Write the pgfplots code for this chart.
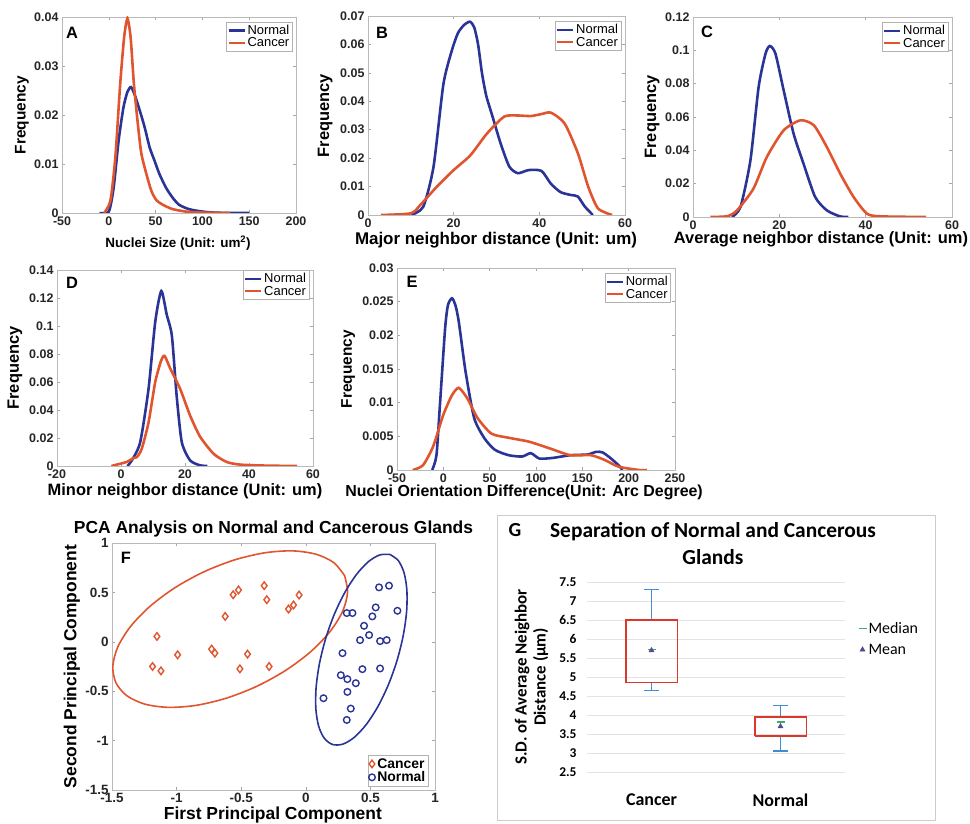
\documentclass[border=0pt]{standalone}
\usepackage{fontspec}
\setmainfont{Liberation Sans}
\newfontfamily\calib{Carlito}
\usepackage{pgfplots}
\pgfplotsset{compat=1.18}

\definecolor{nblue}{RGB}{42,52,150}
\definecolor{cred}{RGB}{224,85,45}
\definecolor{gbox}{RGB}{220,55,40}
\definecolor{gwhisk}{RGB}{65,140,210}
\definecolor{gmed}{RGB}{60,170,110}
\definecolor{gmean}{RGB}{85,75,140}

\pgfplotsset{
  panel/.style={
    scale only axis,
    anchor=south west,
    axis line style={draw=gray!55, line width=0.6pt},
    tick style={gray!70, line width=0.5pt},
    major tick length=3bp,
    tick align=inside,
    ticklabel style={font=\bfseries\fontsize{12.5}{13}\selectfont, text=black!85},
    /pgf/number format/assume math mode=true,
    scaled ticks=false,
    yticklabel style={/pgf/number format/fixed, /pgf/number format/precision=3},
    xticklabel style={/pgf/number format/fixed},
    label style={font=\bfseries\fontsize{16.5}{18}\selectfont},
    ylabel=Frequency,
    legend style={at={(0.985,0.975)}, anchor=north east, draw=gray!60,
      font=\fontsize{13}{14}\selectfont, inner sep=1pt, row sep=-2pt,
      cells={anchor=west}},
    legend image code/.code={\draw[##1,line width=2.1pt] (0bp,0bp) -- (16bp,0bp);},
    every axis plot/.append style={line width=2.6pt, smooth, tension=0.4},
  },
  lx/.style 2 args={xlabel style={at={(axis description cs:#1,#2)}, anchor=center}},
  ly/.style={ylabel style={at={(axis description cs:#1,0.5)}, anchor=center}},
}

\begin{document}
\begin{tikzpicture}
\useasboundingbox (0,0) rectangle (970bp,824bp);

% ---------- A ----------
\begin{axis}[panel, at={(62bp,611bp)}, width=234bp, height=196bp,
  xmin=-50, xmax=200, ymin=0, ymax=0.04,
  xtick={-50,0,50,100,150,200}, ytick={0,0.01,0.02,0.03,0.04},
  xlabel={Nuclei Size (Unit: um\textsuperscript{2})}, lx={0.496}{-0.155}, ly=-0.171,
  xlabel style={font=\bfseries\fontsize{13.5}{15}\selectfont},
  ylabel style={font=\bfseries\fontsize{15.5}{17}\selectfont}]
\addplot[nblue] coordinates {
  (-10,0) (0,0.0003) (5.2,0.0052) (10.5,0.0148) (15.7,0.0216) (19.9,0.0247)
  (23.7,0.0257) (27.9,0.024) (33.1,0.0209) (38.3,0.0175) (43.6,0.0134)
  (48.8,0.0107) (54,0.008) (61,0.0052) (67.9,0.0032) (74.9,0.0017)
  (85.4,0.0008) (99.3,0.0003) (117,0.00005) (150,0)};
\addplot[cred] coordinates {
  (-5,0) (1.7,0.0025) (7,0.0114) (12.2,0.0264) (16.4,0.0359) (19.9,0.0397)
  (23.3,0.0359) (26.8,0.0264) (31.4,0.0175) (34.8,0.0121) (40.1,0.008)
  (45.3,0.0046) (50.5,0.0027) (57.5,0.0017) (68,0.0008) (82,0.0003)
  (99,0.0001) (130,0)};
\legend{Normal, Cancer}
\end{axis}

% ---------- B ----------
\begin{axis}[panel, at={(368bp,609bp)}, width=257bp, height=199bp,
  xmin=0, xmax=60, ymin=0, ymax=0.07,
  xtick={0,20,40,60}, ytick={0,0.01,0.02,0.03,0.04,0.05,0.06,0.07},
  xlabel={Major neighbor distance (Unit: um)}, lx={0.498}{-0.124}, ly=-0.167,
  xlabel style={font=\bfseries\fontsize{17}{18}\selectfont}]
\addplot[nblue] coordinates {
  (10,0) (12.9,0.0029) (15.3,0.017) (17.6,0.046) (19.6,0.058) (21,0.064)
  (22.4,0.0668) (23.8,0.068) (24.8,0.066) (25.7,0.06) (26.6,0.05)
  (27.6,0.042) (29,0.035) (31,0.025) (33,0.017) (35,0.0147) (37.5,0.0158)
  (40.5,0.0155) (42.7,0.011) (45,0.008) (47.5,0.007) (49,0.0065)
  (50.6,0.003) (52.5,0)};
\addplot[cred] coordinates {
  (3,0) (10,0.0006) (12.2,0.0035) (16.1,0.010) (20,0.0158) (23.9,0.021)
  (27.8,0.0287) (31.8,0.0346) (34.9,0.035) (38,0.0348) (40.5,0.0355)
  (42.7,0.036) (45.9,0.0322) (49,0.0217) (51.4,0.01) (53.7,0.0023) (57,0)};
\legend{Normal, Cancer}
\end{axis}

% ---------- C ----------
\begin{axis}[panel, at={(693bp,607bp)}, width=259bp, height=200bp,
  xmin=0, xmax=60, ymin=0, ymax=0.12,
  xtick={0,20,40,60}, ytick={0,0.02,0.04,0.06,0.08,0.1,0.12},
  xlabel={Average neighbor distance (Unit: um)}, lx={0.494}{-0.113}, ly=-0.158]
\addplot[nblue] coordinates {
  (9,0) (11,0.006) (13.3,0.034) (15.2,0.078) (16.8,0.098) (17.8,0.1026)
  (19.1,0.098) (21,0.076) (23.3,0.05) (25.6,0.032) (28.3,0.012) (31,0.004)
  (34,0.0004) (36,0)};
\addplot[cred] coordinates {
  (4,0) (8,0.0005) (10.2,0.004) (14,0.017) (17.1,0.036) (21,0.052)
  (24.9,0.058) (28,0.055) (31,0.042) (34.1,0.026) (37.2,0.012) (40.3,0.002)
  (43.4,0.0004) (54,0)};
\legend{Normal, Cancer}
\end{axis}

% ---------- D ----------
\begin{axis}[panel, at={(57bp,358bp)}, width=256bp, height=196bp,
  xmin=-20, xmax=60, ymin=0, ymax=0.14,
  xtick={-20,0,20,40,60}, ytick={0,0.02,0.04,0.06,0.08,0.1,0.12,0.14},
  xlabel={Minor neighbor distance (Unit: um)}, lx={0.5}{-0.13}, ly=-0.164,
  legend style={at={(0.985,1.0)}}]
\addplot[nblue] coordinates {
  (2,0) (3.4,0.004) (6,0.017) (8.6,0.055) (10.7,0.103) (12.6,0.125)
  (14.3,0.108) (15.9,0.093) (17.4,0.05) (19,0.017) (21.6,0.004)
  (24.7,0.0005) (27,0)};
\addplot[cred] coordinates {
  (-3,0) (1.9,0.003) (3.9,0.0057) (5,0.0064) (6.5,0.0124) (8.6,0.031)
  (10.7,0.060) (12.5,0.075) (13.6,0.0787) (15.4,0.0696) (18.5,0.055)
  (21.6,0.036) (24.7,0.021) (28.9,0.0088) (33,0.0029) (37.2,0.001)
  (45,0.0003) (55,0)};
\legend{Normal, Cancer}
\end{axis}

% ---------- E ----------
\begin{axis}[panel, at={(397bp,354bp)}, width=278bp, height=202bp,
  xmin=-50, xmax=250, ymin=0, ymax=0.03,
  xtick={-50,0,50,100,150,200,250},
  ytick={0,0.005,0.01,0.015,0.02,0.025,0.03},
  xlabel={Nuclei Orientation Difference(Unit: Arc Degree)}, lx={0.457}{-0.113}, ly=-0.176,
  xlabel style={font=\bfseries\fontsize{16}{17}\selectfont},
  ylabel style={font=\bfseries\fontsize{15.5}{17}\selectfont}]
\addplot[nblue] coordinates {
  (-12,0) (-7.4,0.0022) (-3.7,0.0096) (1.9,0.021) (5,0.0245) (9.3,0.0255)
  (13,0.0245) (16.7,0.022) (24,0.0146) (33.3,0.0077) (44.4,0.0047)
  (55.6,0.003) (70.4,0.0022) (85,0.002) (94.4,0.0025) (103.7,0.0017)
  (118.5,0.0018) (137,0.0022) (155.6,0.0023) (165,0.0027) (172,0.0026)
  (181,0.0017) (190.7,0.0005) (193,0)};
\addplot[cred] coordinates {
  (-33,0) (-22,0.0007) (-11,0.0035) (0,0.0082) (9.3,0.0111) (16.7,0.0122)
  (26,0.0106) (37,0.0077) (51.9,0.0054) (70,0.0048) (92.6,0.0042)
  (115,0.0032) (137,0.0022) (159,0.0022) (174,0.0015) (189,0.0005)
  (211,0) (220,0)};
\legend{Normal, Cancer}
\end{axis}

% ---------- F ----------
\begin{axis}[panel, at={(112bp,34bp)}, width=323bp, height=247bp,
  xmin=-1.5, xmax=1, ymin=-1.5, ymax=1,
  xtick={-1.5,-1,-0.5,0,0.5,1}, ytick={-1.5,-1,-0.5,0,0.5,1},
  ticklabel style={font=\bfseries\fontsize{13.5}{14}\selectfont},
  label style={font=\bfseries\fontsize{17.5}{19}\selectfont},
  xlabel={First Principal Component}, ylabel={Second Principal Component},
  lx={0.498}{-0.1}, ly=-0.124,
  title={PCA Analysis on Normal and Cancerous Glands},
  title style={font=\bfseries\fontsize{17.5}{19}\selectfont, at={(axis description cs:0.5,1.033)}, anchor=center},
  legend style={at={(0.98,0.015)}, anchor=south east, row sep=-2pt,
    font=\bfseries\fontsize{14}{15}\selectfont},
  legend image code/.code={\draw[mark repeat=2,mark phase=2,#1] plot coordinates {(0bp,0bp)(8bp,0bp)(16bp,0bp)};},
  every axis plot/.append style={sharp plot}]
\addplot[only marks, mark=diamond, mark size=3.8bp, line width=1.4pt, cred] coordinates {
  (-1.152,0.054) (-1.186,-0.25) (-1.121,-0.294) (-0.992,-0.132) (-0.729,-0.074)
  (-0.704,-0.115) (-0.624,0.257) (-0.562,0.476) (-0.521,0.524) (-0.451,-0.125)
  (-0.510,-0.274) (-0.322,0.568) (-0.302,0.426) (-0.284,-0.25) (-0.134,0.331)
  (-0.095,0.372) (-0.052,0.473)};
\addplot[only marks, mark=o, mark size=3.3bp, line width=1.4pt, nblue] coordinates {
  (0.567,0.551) (0.644,0.568) (0.709,0.314) (0.541,0.348) (0.515,0.257)
  (0.317,0.291) (0.361,0.291) (0.451,0.162) (0.490,0.068) (0.420,0.017)
  (0.575,0.007) (0.626,0.017) (0.284,-0.115) (0.438,-0.277) (0.575,-0.27)
  (0.271,-0.338) (0.322,-0.378) (0.387,-0.419) (0.322,-0.507) (0.348,-0.676)
  (0.317,-0.791) (0.137,-0.571)};
\legend{Cancer, Normal}
\addplot[cred, line width=1.6pt, smooth, tension=0.5, forget plot] coordinates {
  (0.3003,0.6696) (0.2168,0.8009) (0.0787,0.8865) (-0.1046,0.9203)
  (-0.3206,0.9002) (-0.5548,0.8275) (-0.7909,0.7071) (-1.0130,0.5473)
  (-1.2060,0.3590) (-1.3566,0.1549) (-1.4547,-0.0509) (-1.4934,-0.2445)
  (-1.4703,-0.4128) (-1.3868,-0.5441) (-1.2487,-0.6297) (-1.0654,-0.6635)
  (-0.8494,-0.6434) (-0.6152,-0.5707) (-0.3791,-0.4503) (-0.1570,-0.2905)
  (0.0360,-0.1022) (0.1866,0.1019) (0.2847,0.3077) (0.3234,0.5013)
  (0.3003,0.6696)};
\addplot[nblue, line width=1.6pt, smooth, tension=0.5, forget plot] coordinates {
  (0.6515,0.8838) (0.5723,0.8793) (0.4835,0.8097) (0.3911,0.6795)
  (0.3013,0.4977) (0.2202,0.2767) (0.1535,0.0315) (0.1056,-0.2211)
  (0.0797,-0.4641) (0.0779,-0.6807) (0.0999,-0.8561) (0.1445,-0.9787)
  (0.2085,-1.0398) (0.2877,-1.0353) (0.3765,-0.9657) (0.4689,-0.8355)
  (0.5587,-0.6537) (0.6398,-0.4327) (0.7065,-0.1875) (0.7544,0.0651)
  (0.7803,0.3081) (0.7821,0.5247) (0.7601,0.7001) (0.7155,0.8227)
  (0.6515,0.8838)};
\end{axis}

% ---------- G ----------
\draw[gray!40, line width=0.6pt] (497bp,4bp) rectangle (935bp,309bp);
\begin{axis}[at={(587bp,52bp)}, anchor=south west, scale only axis,
  width=258bp, height=190bp,
  xmin=0.5, xmax=2.5, ymin=2.5, ymax=7.5,
  xtick={1,2}, xticklabels={Cancer,Normal},
  ytick={2.5,3,3.5,4,4.5,5,5.5,6,6.5,7,7.5},
  axis line style={draw=none}, major tick length=0pt,
  ymajorgrids, grid style={gray!22, line width=0.5pt},
  /pgf/number format/assume math mode=true,
  yticklabel style={font=\calib\bfseries\fontsize{13.5}{14}\selectfont, xshift=-7bp,
    /pgf/number format/fixed, /pgf/number format/precision=2},
  xticklabel style={font=\calib\bfseries\fontsize{18}{19}\selectfont, yshift=-18bp},
  ylabel={S.D. of Average Neighbor\\Distance (µm)},
  ylabel style={align=center, font=\calib\bfseries\fontsize{17}{19}\selectfont,
    at={(axis description cs:-0.215,0.5)}, anchor=center},
  legend style={at={(1.04,0.81)}, anchor=north west, draw=none, fill=none,
    font=\calib\fontsize{16}{17}\selectfont, row sep=5pt, cells={anchor=west}},
  legend image code/.code={\draw[#1] plot coordinates {(5bp,0bp)};}]
% whiskers
\addplot[gwhisk, line width=1.6pt, forget plot] coordinates {(1,6.5) (1,7.3)};
\addplot[gwhisk, line width=1.6pt, forget plot] coordinates {(0.94,7.3) (1.06,7.3)};
\addplot[gwhisk, line width=1.6pt, forget plot] coordinates {(1,4.85) (1,4.65)};
\addplot[gwhisk, line width=1.6pt, forget plot] coordinates {(0.94,4.65) (1.06,4.65)};
\addplot[gwhisk, line width=1.6pt, forget plot] coordinates {(2,3.95) (2,4.25)};
\addplot[gwhisk, line width=1.6pt, forget plot] coordinates {(1.94,4.25) (2.06,4.25)};
\addplot[gwhisk, line width=1.6pt, forget plot] coordinates {(2,3.45) (2,3.05)};
\addplot[gwhisk, line width=1.6pt, forget plot] coordinates {(1.94,3.05) (2.06,3.05)};
% boxes
\addplot[gbox, line width=1.6pt, forget plot] coordinates {
  (0.8,4.85) (1.2,4.85) (1.2,6.5) (0.8,6.5) (0.8,4.85)};
\addplot[gbox, line width=1.6pt, forget plot] coordinates {
  (1.8,3.45) (2.2,3.45) (2.2,3.95) (1.8,3.95) (1.8,3.45)};
\addplot[only marks, mark=-, mark size=4bp, line width=1.5pt, gmed] coordinates {(1,5.72) (2,3.82)};
\addlegendentry{Median}
\addplot[only marks, mark=triangle*, mark size=3bp, gmean] coordinates {(1,5.7) (2,3.7)};
\addlegendentry{Mean}
\end{axis}
\node[font=\calib\bfseries\fontsize{21.5}{27}\selectfont, align=center] at (713bp,280bp)
  {Separation of Normal and Cancerous\\Glands};
\node[font=\calib\bfseries\fontsize{20}{21}\selectfont] at (515bp,294bp) {G};

% panel letters
\begin{scope}[every node/.style={font=\bfseries\fontsize{16.5}{17}\selectfont}]
\node at (72bp,791bp) {A};
\node at (382bp,791bp) {B};
\node at (707bp,792bp) {C};
\node at (72bp,541bp) {D};
\node at (412bp,542bp) {E};
\node at (126bp,266bp) {F};
\end{scope}
\end{tikzpicture}
\end{document}
